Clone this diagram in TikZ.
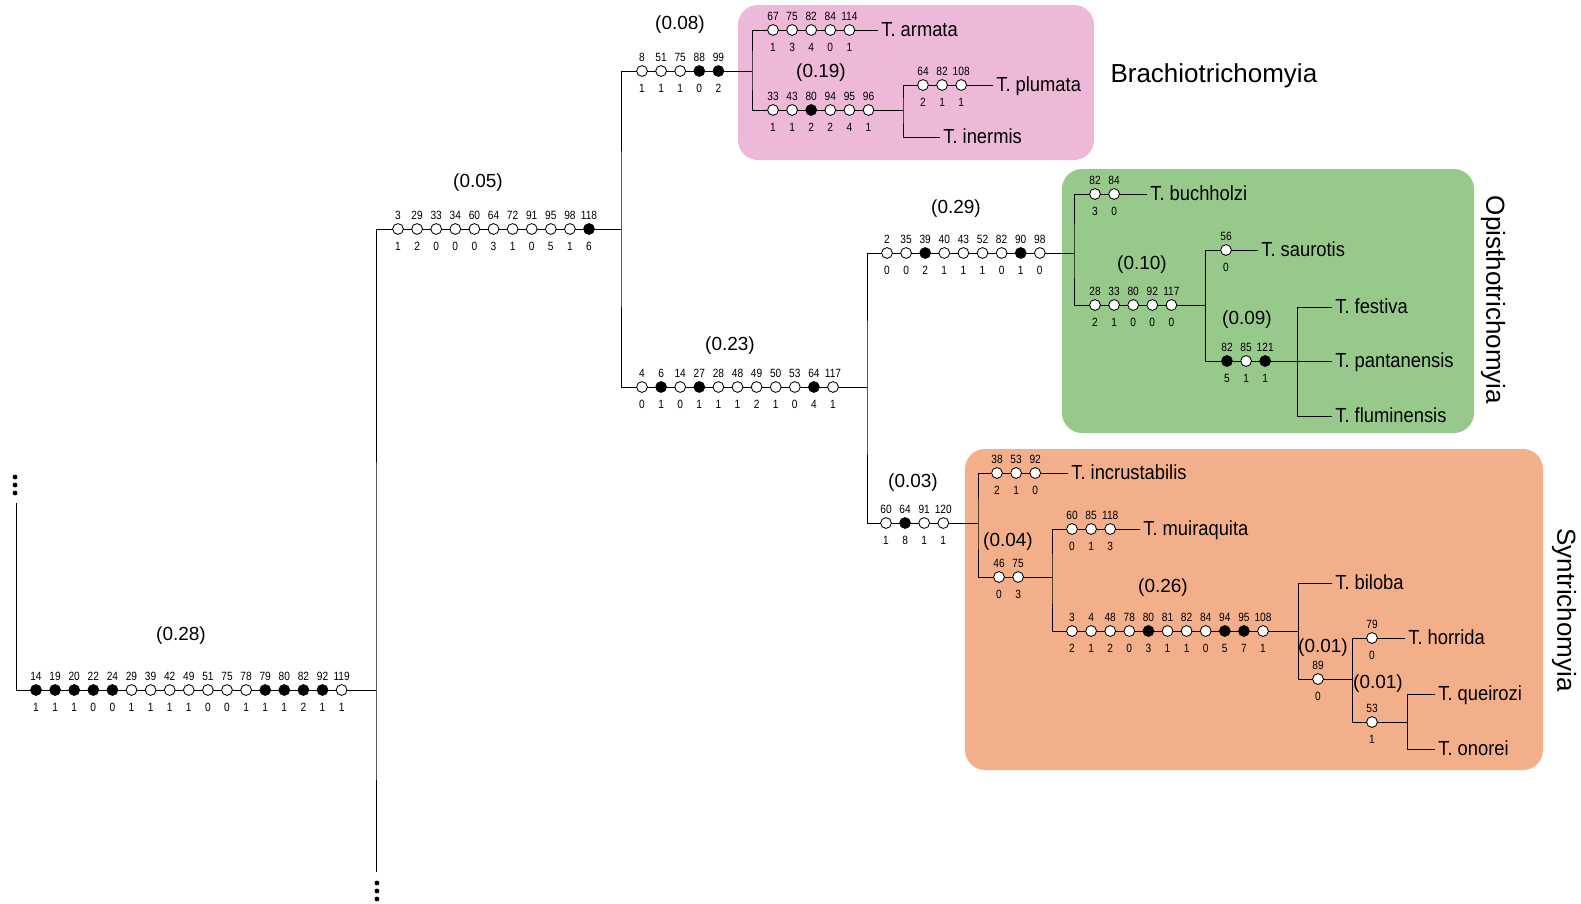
\documentclass[tikz,border=0pt]{standalone}
\usepackage{fontspec}
\setmainfont{Liberation Sans}
\newfontfamily\numfont[FakeStretch=0.85]{Liberation Sans}
\newfontfamily\taxfont[FakeStretch=0.9]{Liberation Sans}
\usetikzlibrary{positioning}

\definecolor{brachpink}{RGB}{238,185,216}
\definecolor{opisgreen}{RGB}{151,201,139}
\definecolor{syntorange}{RGB}{243,175,138}

% row of character states on a branch: name, x of first dot, y, {char/state/style,...}
\newcommand{\charrow}[4]{%
  \foreach \chn/\chs/\chk [count=\i from 0] in {#4} {
    \node[\chk] (#1-\i) at ({#2+19.1*\i},#3) {};
    \node[charnum, above=2.5pt of #1-\i] (#1-\i-c) {\chn};
    \node[charnum, below=5pt of #1-\i] (#1-\i-s) {\chs};
  }}

\begin{document}
\begin{tikzpicture}[
  x=0.025cm, y=-0.025cm, line width=0.7pt,
  chw/.style={circle, draw, fill=white, line width=0.6pt, inner sep=0, minimum size=0.27cm},
  chb/.style={chw, fill=black},
  charnum/.style={font=\numfont\fontsize{8.5}{9}\selectfont, inner sep=0},
  taxon/.style={anchor=west, inner sep=2pt, font=\taxfont\fontsize{14.5}{16}\selectfont, text height=1.9ex, text depth=0.25ex},
  blen/.style={font=\fontsize{13.5}{15}\selectfont, inner sep=0},
  clade/.style={font=\fontsize{18.5}{20}\selectfont, inner sep=0},
  cladebox/.style={rounded corners=0.5cm}
]
\useasboundingbox (0,0) rectangle (1581,903);

% Clade backgrounds
\fill[brachpink, cladebox] (738,5) rectangle (1094,160);
\fill[opisgreen, cladebox] (1062,169) rectangle (1474,433);
\fill[syntorange, cladebox] (965,449) rectangle (1543,770);

% Internal nodes
\coordinate (top) at (16,503);
\coordinate (root) at (16,690);
\coordinate (n1) at (376,690);
\coordinate (bot) at (376,872);
\coordinate (n2) at (621,229);
\coordinate (n3) at (752,71);
\coordinate (n4) at (903,110);
\coordinate (n5) at (867,387);
\coordinate (n6) at (1074,253);
\coordinate (n7) at (1205,305);
\coordinate (n8) at (1297,361);
\coordinate (n9) at (978,523);
\coordinate (n10) at (1052,577);
\coordinate (n11) at (1298,631);
\coordinate (n12) at (1352,679);
\coordinate (n13) at (1407,722);

% Terminals
\node[taxon] (armata) at (878,30) {T. armata};
\node[taxon] (plumata) at (993,85) {T. plumata};
\node[taxon] (inermis) at (940,137) {T. inermis};
\node[taxon] (buchholzi) at (1147,194) {T. buchholzi};
\node[taxon] (saurotis) at (1258,250) {T. saurotis};
\node[taxon] (festiva) at (1332,307) {T. festiva};
\node[taxon] (pantanensis) at (1332,361) {T. pantanensis};
\node[taxon] (fluminensis) at (1332,416) {T. fluminensis};
\node[taxon] (incrustabilis) at (1068,473) {T. incrustabilis};
\node[taxon] (muiraquita) at (1140,529) {T. muiraquita};
\node[taxon] (biloba) at (1332,583) {T. biloba};
\node[taxon] (horrida) at (1405,638) {T. horrida};
\node[taxon] (queirozi) at (1435,694) {T. queirozi};
\node[taxon] (onorei) at (1435,749) {T. onorei};

% Branches
\draw (top) -- (root) -- (n1);
\draw (bot) -- (n1) |- (n2);
\draw (n3) -| (n2) |- (n5);
\draw (armata) -| (n3) |- (n4);
\draw (plumata) -| (n4) |- (inermis);
\draw (n6) -| (n5) |- (n9);
\draw (buchholzi) -| (n6) |- (n7);
\draw (saurotis) -| (n7) |- (n8);
\draw (festiva) -| (n8) |- (fluminensis);
\draw (n8) -- (pantanensis);
\draw (incrustabilis) -| (n9) |- (n10);
\draw (muiraquita) -| (n10) |- (n11);
\draw (biloba) -| (n11) |- (n12);
\draw (horrida) -| (n12) |- (n13);
\draw (queirozi) -| (n13) |- (onorei);

% Continuation marks
\foreach \k in {0,1,2} {
  \fill (15,477+8*\k) circle (0.06cm);
  \fill (377,883+8*\k) circle (0.06cm);
}

% Character states
\charrow{c28}{36}{690}{14/1/chb, 19/1/chb, 20/1/chb, 22/0/chb, 24/0/chb, 29/1/chw, 39/1/chw, 42/1/chw, 49/1/chw, 51/0/chw, 75/0/chw, 78/1/chw, 79/1/chb, 80/1/chb, 82/2/chb, 92/1/chb, 119/1/chw}
\charrow{c05}{398}{229}{3/1/chw, 29/2/chw, 33/0/chw, 34/0/chw, 60/0/chw, 64/3/chw, 72/1/chw, 91/0/chw, 95/5/chw, 98/1/chw, 118/6/chb}
\charrow{c08}{642}{71}{8/1/chw, 51/1/chw, 75/1/chw, 88/0/chb, 99/2/chb}
\charrow{carm}{773}{30}{67/1/chw, 75/3/chw, 82/4/chw, 84/0/chw, 114/1/chw}
\charrow{c19}{773}{110}{33/1/chw, 43/1/chw, 80/2/chb, 94/2/chw, 95/4/chw, 96/1/chw}
\charrow{cplu}{923}{85}{64/2/chw, 82/1/chw, 108/1/chw}
\charrow{c23}{642}{387}{4/0/chw, 6/1/chb, 14/0/chw, 27/1/chb, 28/1/chw, 48/1/chw, 49/2/chw, 50/1/chw, 53/0/chw, 64/4/chb, 117/1/chw}
\charrow{c29}{887}{253}{2/0/chw, 35/0/chw, 39/2/chb, 40/1/chw, 43/1/chw, 52/1/chw, 82/0/chw, 90/1/chb, 98/0/chw}
\charrow{cbuc}{1095}{194}{82/3/chw, 84/0/chw}
\charrow{c10}{1095}{305}{28/2/chw, 33/1/chw, 80/0/chw, 92/0/chw, 117/0/chw}
\charrow{csau}{1226}{250}{56/0/chw}
\charrow{c09}{1227}{361}{82/5/chb, 85/1/chw, 121/1/chb}
\charrow{c03}{886}{523}{60/1/chw, 64/8/chb, 91/1/chw, 120/1/chw}
\charrow{cinc}{997}{473}{38/2/chw, 53/1/chw, 92/0/chw}
\charrow{c04}{999}{577}{46/0/chw, 75/3/chw}
\charrow{cmui}{1072}{529}{60/0/chw, 85/1/chw, 118/3/chw}
\charrow{c26}{1072}{631}{3/2/chw, 4/1/chw, 48/2/chw, 78/0/chw, 80/3/chb, 81/1/chw, 82/1/chw, 84/0/chw, 94/5/chb, 95/7/chb, 108/1/chw}
\charrow{c01a}{1318}{679}{89/0/chw}
\charrow{chor}{1372}{638}{79/0/chw}
\charrow{c01b}{1372}{722}{53/1/chw}

% Branch lengths
\node[blen] (b28) at (181,636) {(0.28)};
\node[blen] (b05) at (478,183) {(0.05)};
\node[blen] (b08) at (680,25) {(0.08)};
\node[blen] (b19) at (821,73) {(0.19)};
\node[blen] (b23) at (730,346) {(0.23)};
\node[blen] (b29) at (956,209) {(0.29)};
\node[blen] (b10) at (1142,265) {(0.10)};
\node[blen] (b09) at (1247,320) {(0.09)};
\node[blen] (b03) at (913,483) {(0.03)};
\node[blen] (b04) at (1008,542) {(0.04)};
\node[blen] (b26) at (1163,588) {(0.26)};
\node[blen] (b01a) at (1323,648) {(0.01)};
\node[blen] (b01b) at (1378,684) {(0.01)};

% Clade names
\node[clade, anchor=west] (brach) at (1110,76) {Brachiotrichomyia};
\node[clade, rotate=-90] (opis) at (1493,300) {Opisthotrichomyia};
\node[clade, rotate=-90] (synt) at (1564,610) {Syntrichomyia};
\end{tikzpicture}
\end{document}
